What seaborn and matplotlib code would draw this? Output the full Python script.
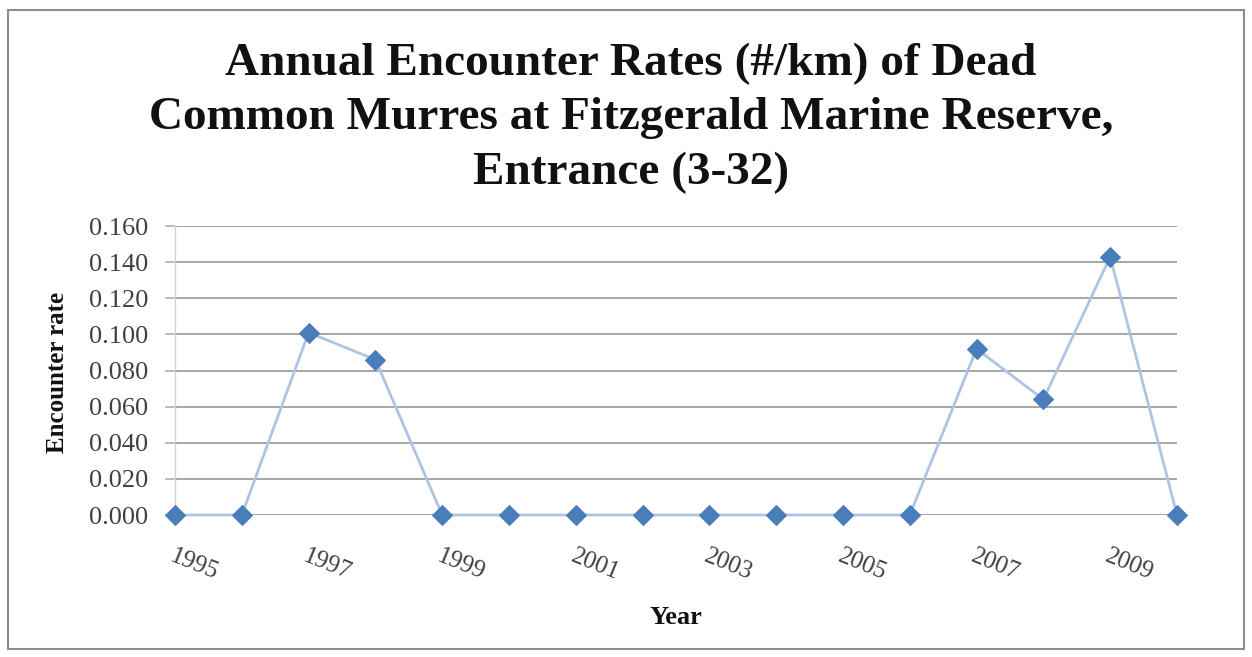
import matplotlib
matplotlib.use("Agg")
import matplotlib.pyplot as plt
import seaborn as sns
import pandas as pd
from matplotlib.patches import Rectangle

years = [1995, 1996, 1997, 1998, 1999, 2000, 2001, 2002, 2003, 2004,
         2005, 2006, 2007, 2008, 2009, 2010]
rates = [0.000, 0.000, 0.101, 0.086, 0.000, 0.000, 0.000, 0.000, 0.000, 0.000,
         0.000, 0.000, 0.092, 0.064, 0.143, 0.000]
yticks = [0.000, 0.020, 0.040, 0.060, 0.080, 0.100, 0.120, 0.140, 0.160]
xtick_labels = ["1995", "1997", "1999", "2001", "2003", "2005", "2007", "2009"]

sns.set_theme(style="white")
plt.rcParams['font.family'] = ['Liberation Serif', 'DejaVu Serif']

df = pd.DataFrame({"idx": list(range(len(years))), "rate": rates})

fig = plt.figure(figsize=(12.52, 6.57), dpi=100)
ax = fig.add_axes([175/1252, 1-515/657, (1177-175)/1252, (515-226)/657])

for y in yticks:
    ax.axhline(y, color="#a6a6a6", lw=1.4, zorder=0)

sns.lineplot(data=df, x="idx", y="rate", ax=ax, color="#aec4e4", lw=2,
             marker="D", markersize=10.5, markerfacecolor="#4a7ebb",
             markeredgecolor="#4a7ebb", clip_on=False, zorder=3)

ax.set_xlim(0, 15)
ax.set_ylim(0, 0.16)
ax.set_yticks(yticks)
ax.set_yticklabels([f"{v:.3f}" for v in yticks], fontsize=19, color="#404040")
ax.tick_params(axis="y", length=7, width=1.2, color="#b0b0b0", pad=12, left=True)

xpos = [years.index(int(t)) for t in xtick_labels]
ax.set_xticks(xpos)
ax.set_xticklabels(xtick_labels, fontsize=18, color="#404040", rotation=-22,
                   ha="left", va="top", rotation_mode="anchor")
ax.tick_params(axis="x", length=0, pad=22)

for s in ["top", "right", "bottom"]:
    ax.spines[s].set_visible(False)
ax.spines["left"].set_color("#d0d0d0")
ax.spines["left"].set_linewidth(1.0)

ax.set_xlabel("")
ax.set_ylabel("")
fig.text(58/1252, 1-372/657, "Encounter rate", rotation=90, fontsize=18,
         fontweight="bold", ha="center", va="center", color="#111111")
fig.text(676/1252, 1-617/657, "Year", fontsize=19, fontweight="bold",
         ha="center", va="center", color="#111111")

fig.text(631/1252, 1-118/657,
         "Annual Encounter Rates (#/km) of Dead\nCommon Murres at Fitzgerald Marine Reserve,\nEntrance (3-32)",
         fontsize=34, fontweight="bold", ha="center", va="center",
         linespacing=1.38, color="#111111")

fig.patches.append(Rectangle((8/1252, 1-649/657), (1244-8)/1252, (649-10)/657,
                             transform=fig.transFigure, fill=False,
                             edgecolor="#8c8c8c", lw=1.5))

fig.savefig("out.png", dpi=100)
